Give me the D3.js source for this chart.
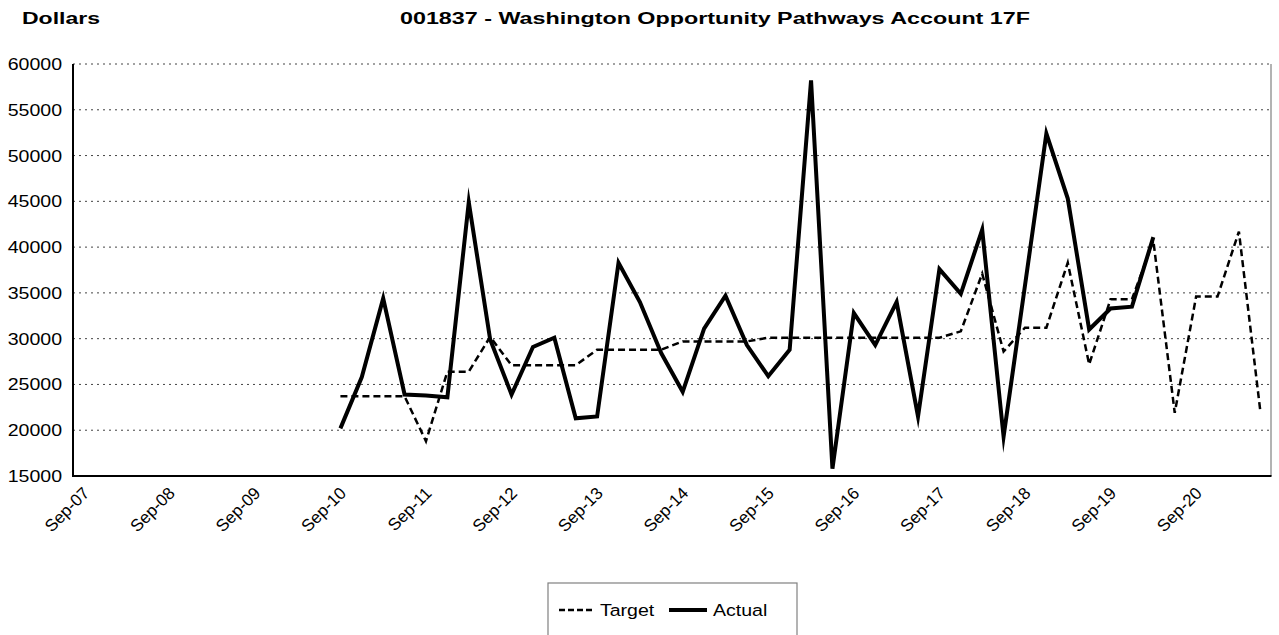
<!DOCTYPE html>
<html>
<head>
<meta charset="utf-8">
<script src="https://cdn.jsdelivr.net/npm/d3@7"></script>
<style>
  html, body { margin: 0; padding: 0; background: #fff; }
  svg { display: block; font-family: Arial, "Liberation Sans", sans-serif; }
</style>
</head>
<body>
<svg id="chart" width="1279" height="635"></svg>
<script>
const categories = [
  "Sep-07","Dec-07","Mar-08","Jun-08","Sep-08","Dec-08","Mar-09","Jun-09",
  "Sep-09","Dec-09","Mar-10","Jun-10","Sep-10","Dec-10","Mar-11","Jun-11",
  "Sep-11","Dec-11","Mar-12","Jun-12","Sep-12","Dec-12","Mar-13","Jun-13",
  "Sep-13","Dec-13","Mar-14","Jun-14","Sep-14","Dec-14","Mar-15","Jun-15",
  "Sep-15","Dec-15","Mar-16","Jun-16","Sep-16","Dec-16","Mar-17","Jun-17",
  "Sep-17","Dec-17","Mar-18","Jun-18","Sep-18","Dec-18","Mar-19","Jun-19",
  "Sep-19","Dec-19","Mar-20","Jun-20","Sep-20","Dec-20","Mar-21","Jun-21"
];
const tickLabels = ["Sep-07","Sep-08","Sep-09","Sep-10","Sep-11","Sep-12","Sep-13",
  "Sep-14","Sep-15","Sep-16","Sep-17","Sep-18","Sep-19","Sep-20"];
const yTicks = [15000,20000,25000,30000,35000,40000,45000,50000,55000,60000];

const targetValues = [
  null,null,null,null,null,null,null,null,null,null,null,null,
  23700,23700,23700,23700,18800,26400,26400,30200,
  27100,27100,27100,27100,28800,28800,28800,28800,
  29700,29700,29700,29700,30100,30100,30100,30100,
  30100,30100,30100,30100,30100,30800,37100,28600,
  31200,31200,38300,27200,34300,34300,40700,21900,
  34600,34600,41700,22100
];
const actualValues = [
  null,null,null,null,null,null,null,null,null,null,null,null,
  20200,25800,34400,23900,23800,23600,44900,29900,
  23900,29100,30100,21300,21500,38300,34000,28400,
  24200,31100,34700,29300,25900,28800,58200,15800,
  32800,29300,34000,21500,37600,34900,41900,19300,
  35800,52400,45300,31000,33300,33500,41100,
  null,null,null,null,null
];

const titleText = "001837 - Washington Opportunity Pathways Account 17F";
const unitText = "Dollars";
const seriesNames = ["Target","Actual"];

const svg = d3.select("#chart");
const pLeft = 73, pRight = 1271, pTop = 64, pBottom = 476;
const stretch = 1.15;

const x = d3.scalePoint().domain(categories).range([pLeft, pRight]).padding(0.5);
const y = d3.scaleLinear().domain([15000, 60000]).range([pBottom, pTop]);

// Titles
svg.append("text").attr("transform", "translate(22,24)")
  .attr("font-size", 16).attr("font-weight", "bold")
  .attr("textLength", 78).attr("lengthAdjust", "spacingAndGlyphs")
  .text(unitText);
svg.append("text").attr("transform", "translate(400,24)")
  .attr("font-size", 16).attr("font-weight", "bold")
  .attr("textLength", 630).attr("lengthAdjust", "spacingAndGlyphs")
  .text(titleText);

// Gridlines
svg.append("g").selectAll("line").data(yTicks.filter(d => d > 15000)).join("line")
  .attr("x1", pLeft).attr("x2", pRight)
  .attr("y1", d => y(d)).attr("y2", d => y(d))
  .attr("stroke", "#444").attr("stroke-width", 1)
  .attr("stroke-dasharray", "2,4");

// Y axis
const yAxis = svg.append("g").attr("transform", `translate(${pLeft},0)`)
  .call(d3.axisLeft(y).tickValues(yTicks).tickSize(0).tickFormat(d3.format("d")));
yAxis.select(".domain").remove();
yAxis.selectAll("text")
  .attr("font-size", 17).attr("font-family", "Arial, 'Liberation Sans', sans-serif")
  .attr("fill", "#000")
  .attr("x", -11 / stretch)
  .attr("transform", `scale(${stretch},1)`);

// X axis
const xAxis = svg.append("g").attr("transform", `translate(0,${pBottom})`)
  .call(d3.axisBottom(x).tickValues(tickLabels).tickSize(0));
xAxis.select(".domain").remove();
xAxis.selectAll("text")
  .attr("font-size", 17).attr("font-family", "Arial, 'Liberation Sans', sans-serif")
  .attr("fill", "#000")
  .attr("text-anchor", "end")
  .attr("x", 0).attr("y", 0).attr("dy", "0.35em")
  .attr("transform", "translate(2,14) rotate(-45)");

// Plot frame
svg.append("line").attr("x1", pRight).attr("x2", pRight).attr("y1", pTop).attr("y2", pBottom)
  .attr("stroke", "#808080").attr("stroke-width", 1.2);
svg.append("line").attr("x1", pLeft).attr("x2", pLeft).attr("y1", pTop).attr("y2", pBottom + 1)
  .attr("stroke", "#000").attr("stroke-width", 2);
svg.append("line").attr("x1", pLeft - 1).attr("x2", pRight + 0.5).attr("y1", pBottom).attr("y2", pBottom)
  .attr("stroke", "#000").attr("stroke-width", 2);

// Lines
const line = d3.line()
  .defined(d => d.v != null)
  .x(d => x(d.c)).y(d => y(d.v));

svg.append("path")
  .datum(categories.map((c, i) => ({c, v: targetValues[i]})))
  .attr("d", line).attr("fill", "none").attr("stroke", "#000")
  .attr("stroke-width", 2.5).attr("stroke-dasharray", "7,4");

svg.append("path")
  .datum(categories.map((c, i) => ({c, v: actualValues[i]})))
  .attr("d", line).attr("fill", "none").attr("stroke", "#000")
  .attr("stroke-width", 4).attr("stroke-linejoin", "miter").attr("stroke-miterlimit", 10);

// Legend
const lg = svg.append("g");
lg.append("rect").attr("x", 548).attr("y", 583).attr("width", 249).attr("height", 70)
  .attr("fill", "#fff").attr("stroke", "#808080").attr("stroke-width", 1.2);
lg.append("line").attr("x1", 559).attr("x2", 595).attr("y1", 610).attr("y2", 610)
  .attr("stroke", "#000").attr("stroke-width", 2.5).attr("stroke-dasharray", "6,3");
lg.append("text").attr("transform", `translate(600,610) scale(${stretch},1)`)
  .attr("dy", "0.35em").attr("font-size", 17).text(seriesNames[0]);
lg.append("line").attr("x1", 669).attr("x2", 707).attr("y1", 610).attr("y2", 610)
  .attr("stroke", "#000").attr("stroke-width", 4);
lg.append("text").attr("transform", `translate(713,610) scale(${stretch},1)`)
  .attr("dy", "0.35em").attr("font-size", 17).text(seriesNames[1]);
</script>
</body>
</html>
